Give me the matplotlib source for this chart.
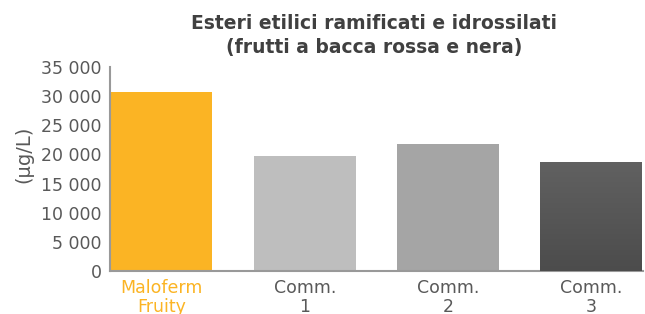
import matplotlib.pyplot as plt
import numpy as np

categories = ['Maloferm\nFruity', 'Comm.\n1', 'Comm.\n2', 'Comm.\n3']
values = [30700, 19800, 21700, 18700]
bar_colors = ['#FBB424', '#BEBEBE', '#A5A5A5', '#585858']
label_colors = ['#FBB424', '#595959', '#595959', '#595959']
yticks = [0, 5000, 10000, 15000, 20000, 25000, 30000, 35000]
ytick_labels = ['0', '5 000', '10 000', '15 000', '20 000', '25 000', '30 000', '35 000']

fig = plt.figure(figsize=(6.45, 3.14), dpi=100)
ax = fig.add_axes([0.1705, 0.137, 0.826, 0.65])

x = np.arange(len(categories))
bars = ax.bar(x, values, width=0.71, color=bar_colors, zorder=2)

# gradient on the last (dark) bar
last = bars[-1]
grad = np.linspace(0, 1, 256).reshape(-1, 1)
bx, by = last.get_x(), last.get_y()
img = ax.imshow(grad, extent=[bx, bx + last.get_width(), by, by + last.get_height()],
                cmap=plt.matplotlib.colors.LinearSegmentedColormap.from_list('g', ['#4C4C4C', '#616161']),
                origin='lower', aspect='auto', zorder=3)
img.set_clip_path(last)

ax.set_xlim(-0.36, 3.36)
ax.set_ylim(0, 35000)
ax.set_yticks(yticks)
ax.set_yticklabels(ytick_labels)
ax.set_xticks(x)
ax.set_xticklabels(categories, linespacing=1.05)

ax.tick_params(axis='both', length=0, labelsize=12.5, colors='#595959')
ax.tick_params(axis='y', pad=6)
ax.tick_params(axis='x', pad=6)
for lbl, c in zip(ax.get_xticklabels(), label_colors):
    lbl.set_color(c)

for s in ['top', 'right']:
    ax.spines[s].set_visible(False)
for s in ['left', 'bottom']:
    ax.spines[s].set_color('#999999')
    ax.spines[s].set_linewidth(1.5)

ax.set_ylabel('(µg/L)', fontsize=14, color='#595959')
ax.yaxis.set_label_coords(-0.143, 0.57)

fig.text(0.58, 0.888, 'Esteri etilici ramificati e idrossilati\n(frutti a bacca rossa e nera)',
         ha='center', va='center', fontsize=13.5, fontweight='bold', color='#404040',
         linespacing=1.35)

fig.savefig('out.png', dpi=100)
